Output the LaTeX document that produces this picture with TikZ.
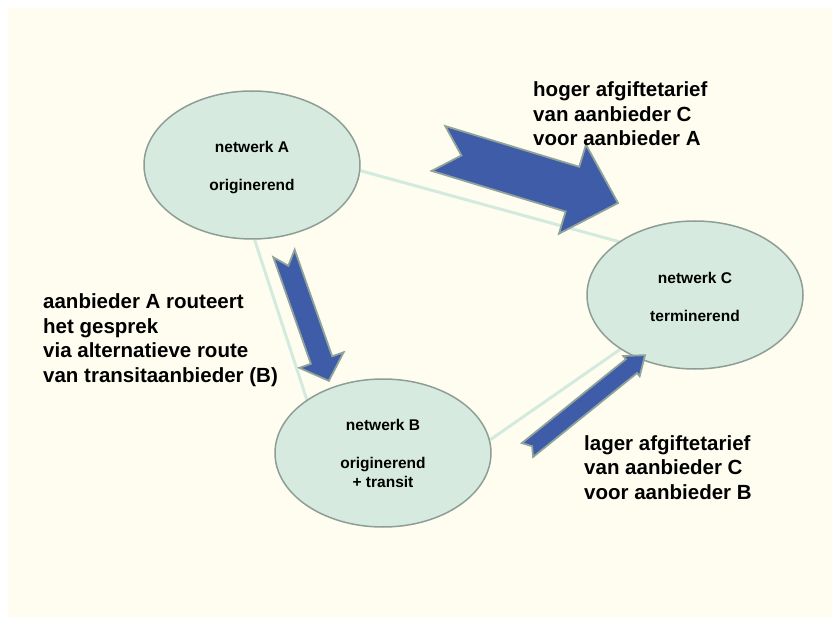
\documentclass[tikz,border=0pt]{standalone}
\usepackage{fontspec}
\setmainfont{Liberation Sans}
\usepackage{tikz}
\usetikzlibrary{shapes.geometric, backgrounds}
\usepackage{xcolor}
\definecolor{paper}{RGB}{254, 253, 240}
\definecolor{netfill}{RGB}{214, 234, 223}
\definecolor{netedge}{RGB}{142, 158, 150}
\definecolor{linkgreen}{RGB}{211, 235, 223}
\definecolor{flowblue}{RGB}{62, 92, 168}
\definecolor{flowedge}{RGB}{143, 163, 154}
% notched block arrow along the local x axis:
% length, half shaft, start of head, half head, notch depth
\newcommand{\flowarrow}[5]{%
  \filldraw[flow] (0,-#2) -- (#3,-#2) -- (#3,-#4) -- (#1,0) -- (#3,#4) -- (#3,#2) -- (0,#2) -- (#5,0) -- cycle;}

\begin{document}
\begin{tikzpicture}[x=1pt, y=-1pt,
    netwerk/.style={ellipse, draw=netedge, line width=1.5pt, fill=netfill,
      minimum width=216pt, minimum height=148pt, inner sep=0pt, align=center,
      font=\fontsize{15.5}{19}\selectfont\bfseries},
    link/.style={linkgreen, line width=3pt},
    flow/.style={fill=flowblue, draw=flowedge, line width=1.8pt, line join=miter},
    note/.style={anchor=base west, align=left, inner sep=0pt,
      font=\fontsize{20.5}{24.5}\selectfont\bfseries}]
    \useasboundingbox (0,0) rectangle (832,617);

    \node[netwerk] (netA) at (252,165) {\rule{0pt}{17pt}netwerk A\\[19pt]originerend};
    \node[netwerk] (netB) at (383,453) {netwerk B\\[19pt]originerend\\+ transit};
    \node[netwerk] (netC) at (695,295) {\rule{0pt}{15pt}netwerk C\\[19pt]terminerend};

    % paper and links under the networks
    \begin{pgfonlayer}{background}
      \fill[white] (0,0) rectangle (832,617);
      \fill[paper] (8,8) rectangle (832,617);
      \draw[link] (netA.-3) -- (netC.145);
      \draw[link] (netA.-88) -- (netB.145);
      \draw[link] (netB.7) -- (netC.216);
    \end{pgfonlayer}

    % block arrows
    \begin{scope}[shift={(438.5,148.5)}, rotate=-16.9]
      \flowarrow{187.6}{23.4}{140}{46.5}{24}
    \end{scope}
    \begin{scope}[shift={(284,253.5)}, rotate=-70.6]
      \flowarrow{135}{11.3}{113}{23.4}{13}
    \end{scope}
    \begin{scope}[shift={(527.5,450)}, rotate=38.9]
      \flowarrow{151}{8.9}{133.6}{13}{6}
    \end{scope}

    % base of a note is the baseline of its last line
    \node[note] (hoger) at (533,146) {hoger afgiftetarief\\van aanbieder C\\voor aanbieder A};
    \node[note] (route) at (43,382) {aanbieder A routeert\\het gesprek\\via alternatieve route\\van transitaanbieder (B)};
    \node[note] (lager) at (584,499) {lager afgiftetarief\\van aanbieder C\\voor aanbieder B};
  \end{tikzpicture}
\end{document}
